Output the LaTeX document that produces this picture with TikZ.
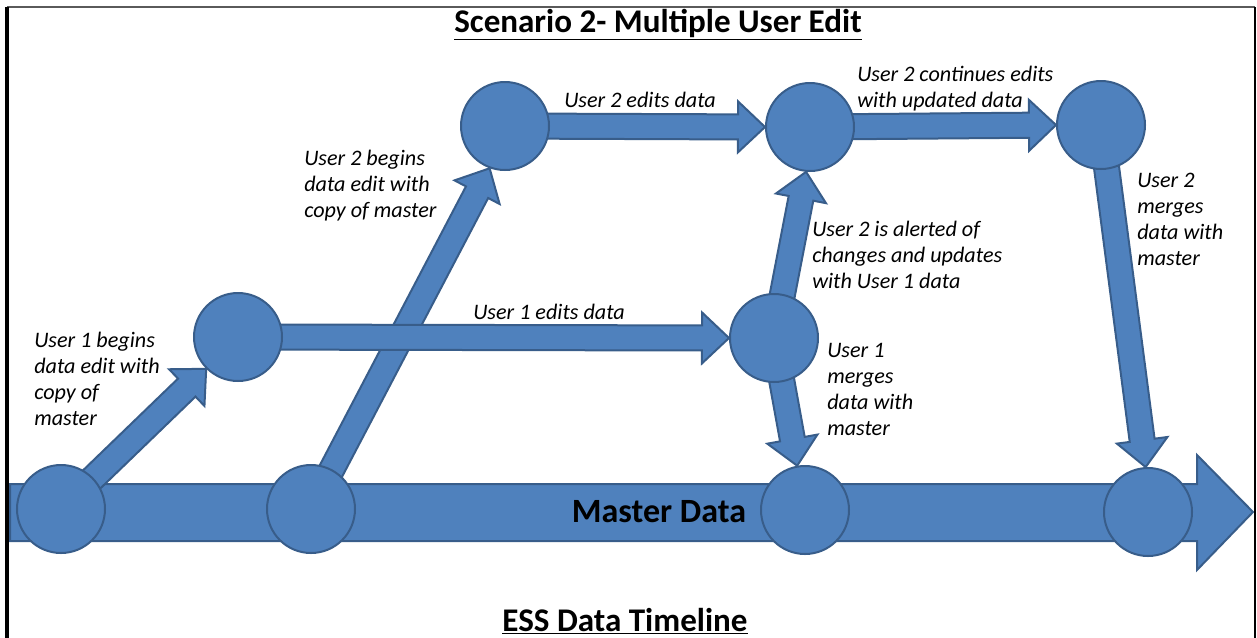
\documentclass[tikz,border=0pt]{standalone}
\usepackage{fontspec}
\setmainfont{Carlito}
\usepackage{tikz}
\usetikzlibrary{calc,backgrounds}

\definecolor{flowfill}{RGB}{79,129,189}
\definecolor{flowedge}{RGB}{56,93,138}

% block arrow from one stage to the next: shaft 12.5px, head 25.5px wide, 27px long
\newcommand{\flowarrow}[2]{%
  \path ($(#2)!20.25pt!(#1)$) coordinate (hb);
  \draw [flow] ($(#1)!9.4pt!90:(#2)$) -- ($(hb)!9.4pt!90:(#2)$) -- ($(hb)!19.1pt!90:(#2)$)
    -- (#2) -- ($(hb)!19.1pt!-90:(#2)$) -- ($(hb)!9.4pt!-90:(#2)$) -- ($(#1)!9.4pt!-90:(#2)$) -- cycle ;
}

\begin{document}
\begin{tikzpicture}[x=0.75pt,y=0.75pt,yscale=-1,xscale=1,
    stage/.style={circle, draw=flowedge, fill=flowfill, line width=1.5, minimum size=66pt, inner sep=0pt},
    flow/.style={draw=flowedge, fill=flowfill, line width=1.5, line join=miter},
    note/.style={anchor=north west, inner sep=0.75pt, align=left, font=\fontsize{16.6}{19.5}\selectfont\itshape},
    heading/.style={anchor=base, inner sep=0.75pt, font=\fontsize{24.8}{29}\selectfont\bfseries}]
        \useasboundingbox (0,0) rectangle (1257,637);

        %Shape: Frame
        \draw [color={rgb, 255:red, 90; green, 90; blue, 90 }, line width=2] (7,7) -- (1255,7) ;
        \draw [line width=2.5] (7,7) -- (7,640) ;
        \draw [line width=2] (1255,7) -- (1255,640) ;

        %Shape: Circle -- master data line
        \node [stage] (m1) at (61,509) {};
        \node [stage] (m2) at (311,509) {};
        \node [stage] (m3) at (805,510) {};
        \node [stage] (m4) at (1148,512) {};
        %Shape: Circle -- user copies
        \node [stage] (a) at (238,337) {};
        \node [stage] (b) at (505,126) {};
        \node [stage] (c) at (810,127) {};
        \node [stage] (d) at (1101,125) {};
        \node [stage] (e) at (774,338) {};

        \begin{scope}[on background layer]
        %Shape: Right Arrow -- master data
        \coordinate (mtip) at (1253,512) ;
        \draw [flow] (10,484) -- (1197,484) -- (1197,455) -- (mtip) -- (1197,570) -- (1197,541) -- (10,541) -- cycle ;
        %Block Arrows
        \flowarrow{m2}{b.250}
        \flowarrow{a}{e.west}
        \flowarrow{m1}{a.225}
        \flowarrow{b}{c.west}
        \flowarrow{c}{d.west}
        \flowarrow{e}{c.265}
        \flowarrow{e}{m3.100}
        \flowarrow{d}{m4.93}
        \end{scope}

        % Text Node
        \node [heading] (title) at (658,32) {\underline{Scenario 2- Multiple User Edit}};
        % Text Node
        \node [heading] (timeline) at (625,631) {\underline{ESS Data Timeline}};
        % Text Node
        \node [inner sep=0.75pt, font=\fontsize{25.5}{30}\selectfont\bfseries] (master) at (659,512) {Master Data};

        % Text Node
        \node [note] (n1) at (33,331) {User 1 begins\\data edit with\\copy of\\master};
        % Text Node
        \node [note] (n2) at (303,149) {User 2 begins\\data edit with\\copy of master};
        % Text Node
        \node [note] (n3) at (563,91) {User 2 edits data};
        % Text Node
        \node [note] (n4) at (472,303) {User 1 edits data};
        % Text Node
        \node [note] (n5) at (856,65) {User 2 continues edits\\with updated data};
        % Text Node
        \node [note] (n6) at (811,220) {User 2 is alerted of\\changes and updates\\with User 1 data};
        % Text Node
        \node [note] (n7) at (826,342) {User 1\\merges\\data with\\master};
        % Text Node
        \node [note] (n8) at (1136,172) {User 2\\merges\\data with\\master};

\end{tikzpicture}
\end{document}
